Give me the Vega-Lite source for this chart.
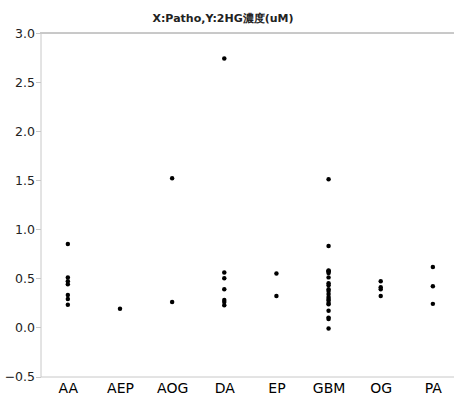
{
  "$schema": "https://vega.github.io/schema/vega-lite/v6.json",
  "autosize": {"type": "none"},
  "width": 413,
  "height": 343.5,
  "padding": {"left": 40.5, "top": 33, "right": 0, "bottom": 19.5},
  "background": "white",
  "title": {
    "text": "X:Patho,Y:2HG濃度(uM)",
    "font": "DejaVu Sans",
    "fontSize": 11,
    "fontWeight": "bold",
    "color": "#222",
    "anchor": "middle",
    "dx": -24,
    "offset": 3
  },
  "config": {"view": {"stroke": null}},
  "data": {
    "values": [
      {"Patho": "AA", "v": 0.85}, {"Patho": "AA", "v": 0.51}, {"Patho": "AA", "v": 0.47}, {"Patho": "AA", "v": 0.44}, {"Patho": "AA", "v": 0.33}, {"Patho": "AA", "v": 0.29}, {"Patho": "AA", "v": 0.23},
      {"Patho": "AEP", "v": 0.19},
      {"Patho": "AOG", "v": 1.52}, {"Patho": "AOG", "v": 0.26},
      {"Patho": "DA", "v": 2.74}, {"Patho": "DA", "v": 0.56}, {"Patho": "DA", "v": 0.50}, {"Patho": "DA", "v": 0.39}, {"Patho": "DA", "v": 0.28}, {"Patho": "DA", "v": 0.26}, {"Patho": "DA", "v": 0.225},
      {"Patho": "EP", "v": 0.55}, {"Patho": "EP", "v": 0.32},
      {"Patho": "GBM", "v": 1.51}, {"Patho": "GBM", "v": 0.83}, {"Patho": "GBM", "v": 0.58}, {"Patho": "GBM", "v": 0.57}, {"Patho": "GBM", "v": 0.575}, {"Patho": "GBM", "v": 0.555}, {"Patho": "GBM", "v": 0.51}, {"Patho": "GBM", "v": 0.45}, {"Patho": "GBM", "v": 0.43}, {"Patho": "GBM", "v": 0.39}, {"Patho": "GBM", "v": 0.37}, {"Patho": "GBM", "v": 0.34}, {"Patho": "GBM", "v": 0.31}, {"Patho": "GBM", "v": 0.29}, {"Patho": "GBM", "v": 0.275}, {"Patho": "GBM", "v": 0.25}, {"Patho": "GBM", "v": 0.235}, {"Patho": "GBM", "v": 0.17}, {"Patho": "GBM", "v": 0.10}, {"Patho": "GBM", "v": 0.085}, {"Patho": "GBM", "v": -0.01},
      {"Patho": "OG", "v": 0.47}, {"Patho": "OG", "v": 0.41}, {"Patho": "OG", "v": 0.39}, {"Patho": "OG", "v": 0.32},
      {"Patho": "PA", "v": 0.615}, {"Patho": "PA", "v": 0.42}, {"Patho": "PA", "v": 0.24}
    ]
  },
  "layer": [
    {
      "mark": {"type": "rule", "color": "#c8c8c8", "strokeWidth": 1},
      "encoding": {"y": {"datum": 3.0, "type": "quantitative"}}
    },
    {
      "mark": {"type": "circle", "size": 20, "color": "black", "opacity": 1},
      "encoding": {
        "x": {
          "field": "Patho",
          "type": "nominal",
          "sort": ["AA", "AEP", "AOG", "DA", "EP", "GBM", "OG", "PA"],
          "scale": {"type": "point", "padding": 0.46, "align": 0.57},
          "axis": {
            "title": null,
            "labelAngle": 0,
            "labelFont": "DejaVu Sans",
            "labelFontSize": 14,
            "labelColor": "#000",
            "ticks": false,
            "labelPadding": 5,
            "domainColor": "#c8c8c8",
            "grid": false
          }
        },
        "y": {
          "field": "v",
          "type": "quantitative",
          "scale": {"domain": [-0.5, 3.0], "nice": false, "zero": false},
          "axis": {
            "title": null,
            "values": [-0.5, 0, 0.5, 1, 1.5, 2, 2.5, 3],
            "format": ".1f",
            "labelFont": "DejaVu Sans",
            "labelFontSize": 12.5,
            "labelColor": "#222",
            "tickColor": "#c8c8c8",
            "tickSize": 5,
            "labelPadding": 1,
            "domainColor": "#c8c8c8",
            "grid": false
          }
        }
      }
    }
  ]
}
